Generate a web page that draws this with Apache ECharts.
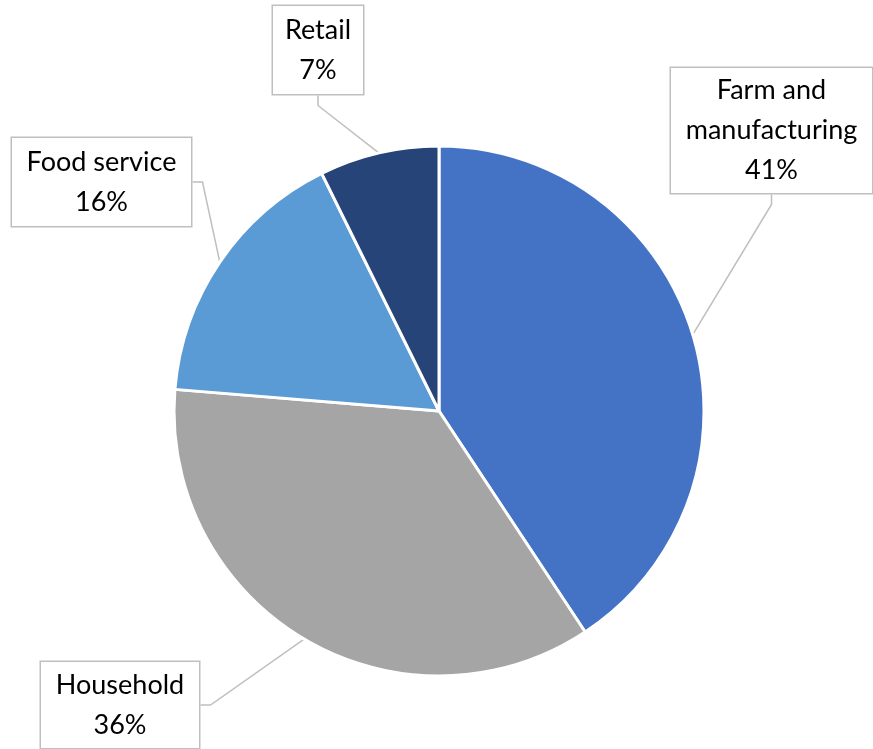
<!DOCTYPE html>
<html>
<head>
<meta charset="utf-8">
<script src="https://cdn.jsdelivr.net/npm/echarts@6/dist/echarts.min.js"></script>
<style>
html,body{margin:0;padding:0;background:#fff;}
#chart{width:873px;height:749px;}
</style>
</head>
<body>
<div id="chart"></div>
<script>
const categories = ['Farm and manufacturing', 'Household', 'Food service', 'Retail'];
// slice shares (percent); labels show them rounded
const values = [40.7, 35.6, 16.4, 7.3];
const labelTexts = ['Farm and\nmanufacturing', 'Household', 'Food service', 'Retail'];

const colors = ['#4472C4', '#A5A5A5', '#5B9BD5', '#264478'];
// label box layout (centers and sizes, in px)
const boxCenters = [[771.5, 130.5], [120, 705], [101.5, 182], [318, 50]];
const boxWidths = [201, 158, 179, 90];
const boxPadV = [2.5, 3, 4, 4];

const chart = echarts.init(document.getElementById('chart'), null, {renderer: 'canvas'});
const data = categories.map((c, i) => ({
  name: c,
  value: values[i],
  itemStyle: {color: colors[i]},
  label: {width: boxWidths[i], padding: [boxPadV[i], 0, boxPadV[i], 0]}
}));

chart.setOption({
  animation: false,
  backgroundColor: '#ffffff',
  series: [{
    type: 'pie',
    center: [439, 411],
    radius: 265,
    startAngle: 90,
    clockwise: true,
    data: data,
    itemStyle: {borderColor: '#ffffff', borderWidth: 3},
    label: {
      show: true,
      position: 'outside',
      formatter: p => labelTexts[p.dataIndex] + '\n' + Math.round(p.value) + '%',
      fontFamily: 'Lato',
      fontSize: 27,
      lineHeight: 40,
      color: '#000000',
      align: 'center',
      backgroundColor: '#ffffff',
      borderColor: '#bfbfbf',
      borderWidth: 1.5
    },
    labelLine: {
      show: true,
      length: 10,
      length2: 10,
      smooth: false,
      lineStyle: {color: '#bfbfbf', width: 1.5}
    },
    labelLayout: function (params) {
      const i = params.dataIndex;
      return {
        x: boxCenters[i][0],
        y: boxCenters[i][1],
        align: 'center',
        verticalAlign: 'middle'
      };
    }
  }]
});
</script>
</body>
</html>
